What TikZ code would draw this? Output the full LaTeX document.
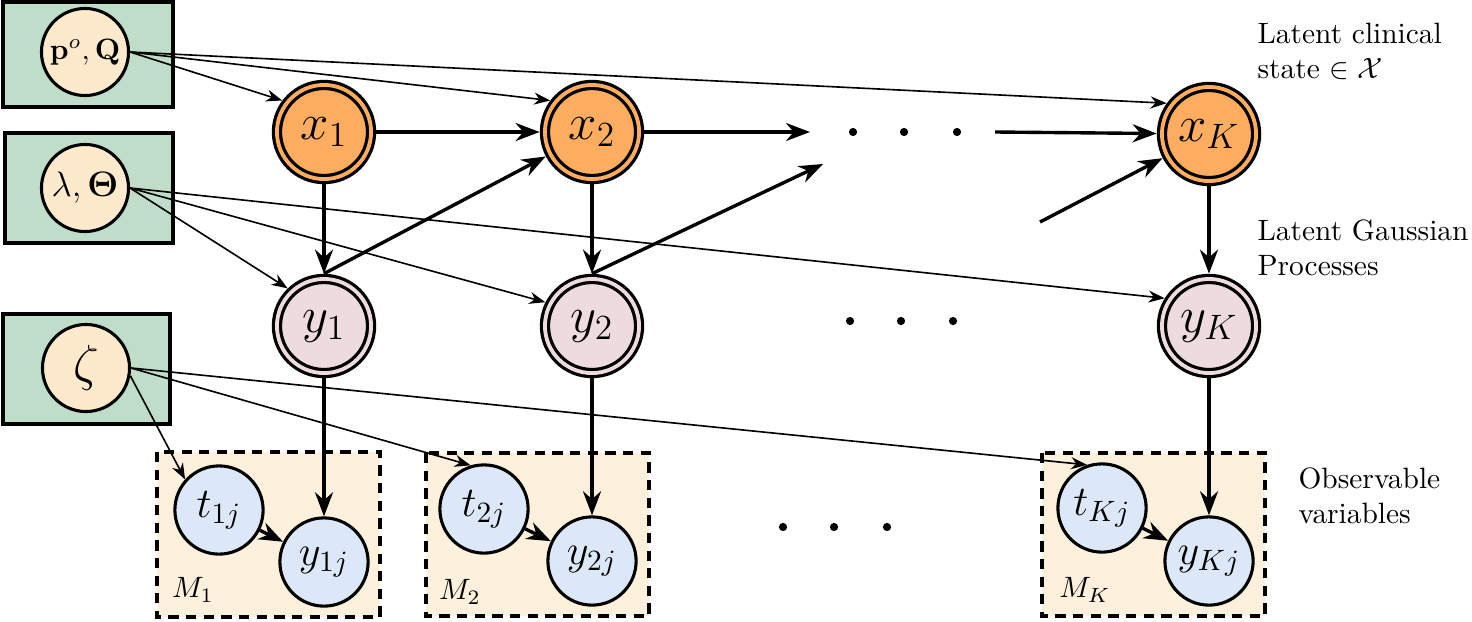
\documentclass[tikz,border=0pt]{standalone}
\usepackage{amsmath,amssymb,bm}
\usetikzlibrary{arrows.meta}
\definecolor{boxgreen}{RGB}{191,221,200}
\definecolor{peach}{RGB}{253,233,204}
\definecolor{orangec}{RGB}{252,173,95}
\definecolor{pinkc}{RGB}{237,219,221}
\definecolor{bluec}{RGB}{220,232,248}
\definecolor{platec}{RGB}{253,240,220}
\begin{document}
\begin{tikzpicture}[x=0.34pt,y=-0.34pt,
  greenbox/.style={draw, line width=1.2pt, fill=boxgreen},
  hyper/.style={circle, draw, line width=1.05pt, fill=peach, minimum size=29.6pt, inner sep=0pt},
  latent/.style={circle, draw, line width=1.1pt, double=orangec, double distance=1.3pt, fill=orangec, minimum size=32pt, inner sep=0pt, outer sep=1.8pt},
  gp/.style={latent, double=pinkc, fill=pinkc},
  obs/.style={circle, draw, line width=1.05pt, fill=bluec, minimum size=30pt, inner sep=0pt},
  plate/.style={draw, line width=1.1pt, dash pattern=on 3.5pt off 2.5pt, fill=platec},
  thinarrow/.style={line width=0.55pt, -{Stealth}},
  thickarrow/.style={line width=1.15pt, -{Stealth}},
  lbl/.style={align=left, inner sep=0pt, anchor=north west},
  dotmark/.style={fill=black}
]
\useasboundingbox (0,0) rectangle (1472,621);

% hyperparameter boxes
\draw[greenbox] (3,2) rectangle (173,107);
\draw[greenbox] (5,133) rectangle (173,243);
\draw[greenbox] (3,314) rectangle (170,424);
\node[hyper] (pq) at (85,52) {$\mathbf{p}^{o},\mathbf{Q}$};
\node[hyper] (lt) at (85,188) {\large $\lambda,\bm{\Theta}$};
\node[hyper] (zeta) at (86,368) {\LARGE $\zeta$};

% plates
\draw[plate] (157,452) rectangle (380,617);
\draw[plate] (426,453) rectangle (649,616);
\draw[plate] (1042,453) rectangle (1265,616);
\node (m1) at (193,590) {$M_1$};
\node (m2) at (460,592) {$M_2$};
\node (mk) at (1085,590) {$M_K$};

% latent states
\node[latent] (x1) at (324,132) {\LARGE $x_1$};
\node[latent] (x2) at (592,132) {\LARGE $x_2$};
\node[latent] (xk) at (1209,134) {\LARGE $x_K$};
\node[gp] (y1) at (324,326) {\LARGE $y_1$};
\node[gp] (y2) at (592,326) {\LARGE $y_2$};
\node[gp] (yk) at (1209,326) {\LARGE $y_K$};

% observations
\node[obs] (t1) at (219,510) {\Large $t_{1j}$};
\node[obs] (o1) at (324,562) {\Large $y_{1j}$};
\node[obs] (t2) at (484,509) {\Large $t_{2j}$};
\node[obs] (o2) at (592,561) {\Large $y_{2j}$};
\node[obs] (tk) at (1102,508) {\Large $t_{Kj}$};
\node[obs] (ok) at (1209,561) {\Large $y_{Kj}$};

% dots
\foreach \px in {853,904,957} \fill[dotmark] (\px,132) circle[radius=1.4pt];
\foreach \px in {850,901,953} \fill[dotmark] (\px,321) circle[radius=1.4pt];
\foreach \px in {783,834,887} \fill[dotmark] (\px,527) circle[radius=1.4pt];

% free ends
\coordinate (d1in) at (810,132);
\coordinate (d1out) at (995,132);
\coordinate (d2in) at (823,164);
\coordinate (d2out) at (1040,222);

% hyperparameter connectors
\draw[thinarrow] (pq.east) -- (x1.143);
\draw[thinarrow] (pq.east) -- (x2.143);
\draw[thinarrow] (pq.east) -- (xk.144);
\draw[thinarrow] (lt.east) -- (y1.134);
\draw[thinarrow] (lt.east) -- (y2.153);
\draw[thinarrow] (lt.east) -- (yk.148);
\draw[thinarrow] (zeta.-10) -- (t1.138);
\draw[thinarrow] (zeta.east) -- (t2.107);
\draw[thinarrow] (zeta.east) -- (tk.109);

% chain
\draw[thickarrow] (x1) -- (x2);
\draw[thickarrow] (x2) -- (d1in);
\draw[thickarrow] (d1out) -- (xk);
\draw[thickarrow] (y1.north) -- (x2);
\draw[thickarrow] (y2.north) -- (d2in);
\draw[thickarrow] (d2out) -- (xk);

% emissions
\draw[thickarrow] (x1) -- (y1);
\draw[thickarrow] (x2) -- (y2);
\draw[thickarrow] (xk) -- (yk);
\draw[thickarrow] (y1) -- (o1);
\draw[thickarrow] (y2) -- (o2);
\draw[thickarrow] (yk) -- (ok);
\draw[thickarrow] (t1) -- (o1);
\draw[thickarrow] (t2) -- (o2);
\draw[thickarrow] (tk) -- (ok);

% labels
\node[lbl] (lab1) at (1257,22) {Latent clinical\\state $\in\mathcal{X}$};
\node[lbl] (lab2) at (1257,219) {Latent Gaussian\\Processes};
\node[lbl] (lab3) at (1298,467) {Observable\\variables};
\end{tikzpicture}
\end{document}
